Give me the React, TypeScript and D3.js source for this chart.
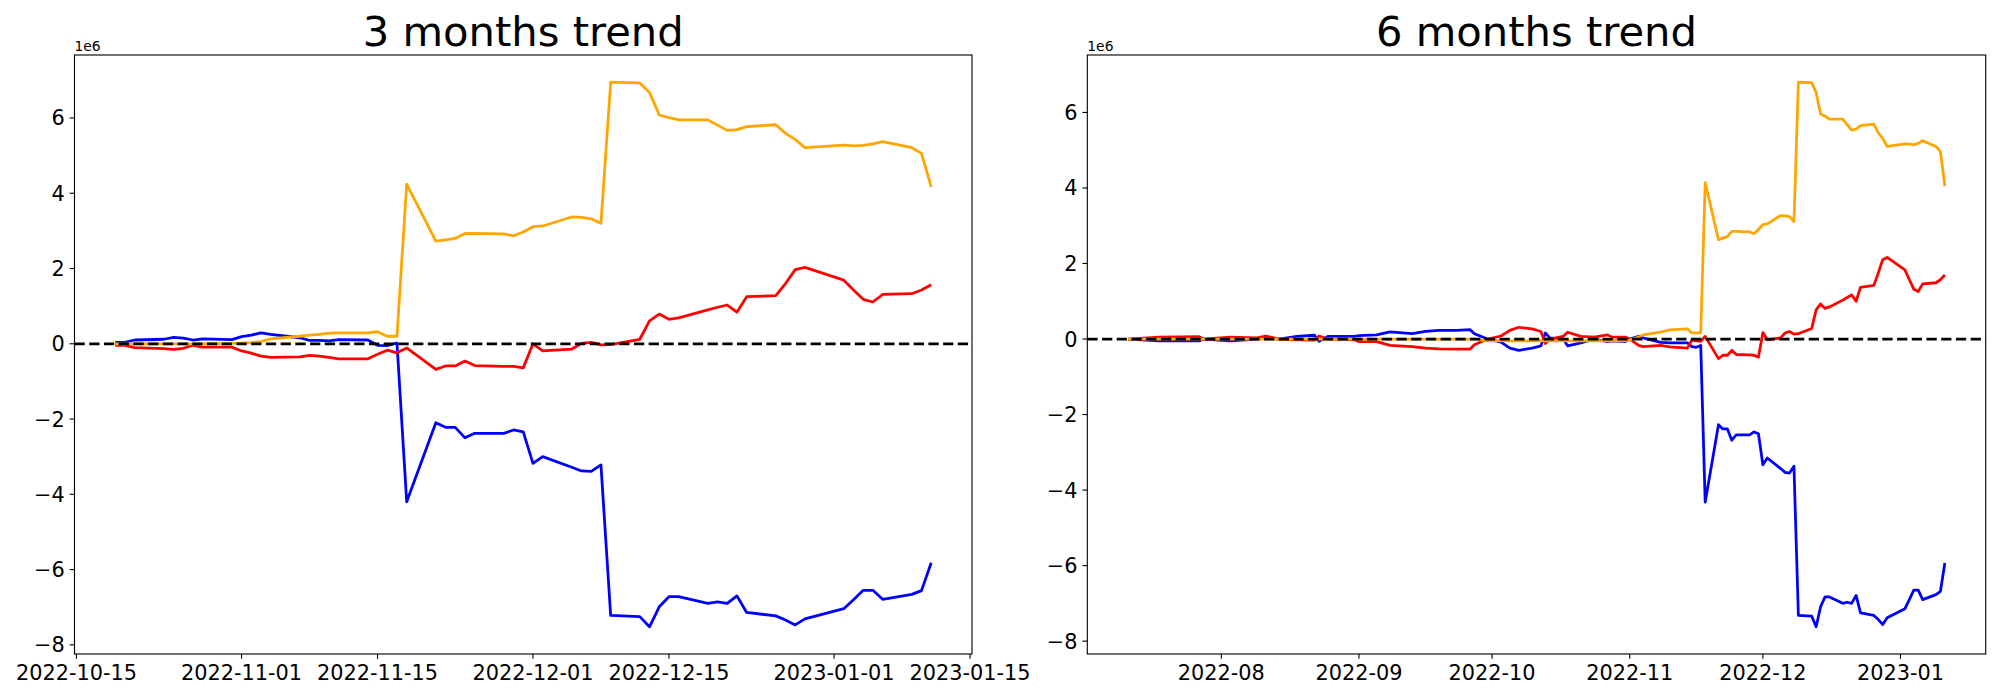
import React from "react";
import * as d3 from "d3";

// ---------- data: 3 months ----------
const dates3 = [
  "2022-10-19","2022-10-20","2022-10-21","2022-10-24","2022-10-25","2022-10-26","2022-10-27","2022-10-28","2022-10-31",
  "2022-11-01","2022-11-02","2022-11-03","2022-11-04","2022-11-07","2022-11-08","2022-11-09","2022-11-10","2022-11-11",
  "2022-11-14","2022-11-15","2022-11-16","2022-11-17","2022-11-18","2022-11-21","2022-11-22","2022-11-23","2022-11-24",
  "2022-11-25","2022-11-28","2022-11-29","2022-11-30","2022-12-01","2022-12-02","2022-12-05","2022-12-06","2022-12-07",
  "2022-12-08","2022-12-09","2022-12-12","2022-12-13","2022-12-14","2022-12-15","2022-12-16","2022-12-19","2022-12-20",
  "2022-12-21","2022-12-22","2022-12-23","2022-12-26","2022-12-27","2022-12-28","2022-12-29","2023-01-02","2023-01-03",
  "2023-01-04","2023-01-05","2023-01-06","2023-01-09","2023-01-10","2023-01-11",
];
const blue3 = [
  0.04, 0.04, 0.10, 0.12, 0.17, 0.15, 0.10, 0.13, 0.11,
  0.19, 0.23, 0.29, 0.25, 0.16, 0.09, 0.09, 0.08, 0.11,
  0.10, -0.04, -0.05, 0.02, -4.20, -2.10, -2.22, -2.22, -2.50,
  -2.38, -2.38, -2.29, -2.34, -3.18, -3.00, -3.28, -3.38, -3.39,
  -3.22, -7.22, -7.25, -7.52, -6.99, -6.72, -6.72, -6.90, -6.86,
  -6.90, -6.70, -7.14, -7.23, -7.34, -7.47, -7.31, -7.04, -6.80,
  -6.55, -6.55, -6.79, -6.66, -6.56, -5.82,
];
const red3 = [
  -0.04, -0.04, -0.10, -0.13, -0.15, -0.12, -0.04, -0.09, -0.09,
  -0.19, -0.25, -0.33, -0.36, -0.35, -0.31, -0.33, -0.36, -0.40,
  -0.40, -0.28, -0.17, -0.24, -0.11, -0.68, -0.59, -0.59, -0.46,
  -0.58, -0.60, -0.60, -0.64, 0.00, -0.19, -0.14, 0.01, 0.04,
  -0.03, -0.02, 0.12, 0.61, 0.79, 0.65, 0.69, 0.90, 0.97,
  1.03, 0.84, 1.25, 1.28, 1.60, 1.97, 2.03, 1.69, 1.43,
  1.18, 1.11, 1.31, 1.33, 1.43, 1.57,
];
const orange3 = [
  0, 0, 0, 0, 0, 0, 0, 0, 0.01,
  0.02, 0.03, 0.06, 0.13, 0.20, 0.23, 0.25, 0.28, 0.29,
  0.29, 0.32, 0.20, 0.20, 4.24, 2.73, 2.76, 2.80, 2.93,
  2.93, 2.92, 2.87, 2.97, 3.11, 3.13, 3.37, 3.36, 3.32,
  3.20, 6.95, 6.93, 6.68, 6.08, 6.01, 5.95, 5.95, 5.81,
  5.67, 5.69, 5.77, 5.82, 5.59, 5.43, 5.21, 5.28, 5.26,
  5.27, 5.31, 5.37, 5.21, 5.06, 4.17,
];
const xTicks3 = ["2022-10-15", "2022-11-01", "2022-11-15", "2022-12-01", "2022-12-15", "2023-01-01", "2023-01-15"];
const xTickLabels3 = ["2022-10-15", "2022-11-01", "2022-11-15", "2022-12-01", "2022-12-15", "2023-01-01", "2023-01-15"];

// ---------- data: 6 months ----------
const dates6 = [
  "2022-07-11","2022-07-18","2022-07-27","2022-07-28","2022-08-03","2022-08-09","2022-08-11","2022-08-14","2022-08-18",
  "2022-08-22","2022-08-23","2022-08-25","2022-08-31","2022-09-01","2022-09-05","2022-09-08","2022-09-13","2022-09-16",
  "2022-09-19","2022-09-23","2022-09-26","2022-09-27","2022-09-30","2022-10-03","2022-10-05","2022-10-07","2022-10-10",
  "2022-10-12","2022-10-13","2022-10-14","2022-10-17","2022-10-18","2022-10-21","2022-10-24","2022-10-27","2022-10-28",
  "2022-10-31","2022-11-01","2022-11-03","2022-11-04","2022-11-08","2022-11-10","2022-11-14","2022-11-15","2022-11-16",
  "2022-11-17",
  "2022-11-18","2022-11-21","2022-11-22","2022-11-23","2022-11-24","2022-11-25","2022-11-28","2022-11-29","2022-11-30",
  "2022-12-01","2022-12-02","2022-12-05","2022-12-06","2022-12-07","2022-12-08","2022-12-09","2022-12-12","2022-12-13",
  "2022-12-14","2022-12-15","2022-12-16","2022-12-19","2022-12-20","2022-12-21","2022-12-22","2022-12-23","2022-12-26",
  "2022-12-27","2022-12-28","2022-12-29","2023-01-02","2023-01-03","2023-01-04","2023-01-05","2023-01-06","2023-01-09",
  "2023-01-10","2023-01-11",
];
const blue6 = [
  0, -0.05, -0.05, 0, -0.05, 0, 0.02, 0, 0.07,
  0.10, -0.06, 0.07, 0.07, 0.09, 0.11, 0.19, 0.14, 0.20,
  0.23, 0.23, 0.25, 0.14, 0, -0.08, -0.24, -0.30, -0.24,
  -0.18, 0.16, 0.03, 0, -0.18, -0.10, 0, -0.07, -0.05,
  -0.07, 0, 0.07, 0.03, -0.09, -0.10, -0.10, -0.20, -0.22,
  -0.17,
  -4.32, -2.27, -2.38, -2.38, -2.68, -2.54, -2.54, -2.46, -2.51,
  -3.33, -3.15, -3.43, -3.53, -3.55, -3.37, -7.32, -7.34, -7.62,
  -7.09, -6.83, -6.83, -7.00, -6.97, -7.00, -6.79, -7.25, -7.32,
  -7.43, -7.56, -7.38, -7.14, -6.90, -6.65, -6.65, -6.90, -6.77,
  -6.68, -5.93,
];
const red6 = [
  0, 0.05, 0.06, 0, 0.05, 0.03, 0.08, 0, -0.02,
  -0.03, 0.08, 0, -0.02, -0.07, -0.07, -0.17, -0.20, -0.24,
  -0.26, -0.27, -0.27, -0.15, 0, 0.08, 0.23, 0.31, 0.27,
  0.20, -0.12, 0, 0.07, 0.18, 0.07, 0.05, 0.11, 0.05,
  0.05, 0, -0.17, -0.20, -0.17, -0.21, -0.24, -0.03, -0.05,
  -0.06,
  0.07, -0.52, -0.43, -0.43, -0.30, -0.41, -0.42, -0.43, -0.48,
  0.17, -0.02, 0.03, 0.16, 0.20, 0.13, 0.14, 0.28, 0.77,
  0.93, 0.81, 0.85, 1.03, 1.10, 1.17, 1.00, 1.37, 1.42,
  1.75, 2.10, 2.16, 1.83, 1.57, 1.32, 1.26, 1.46, 1.49,
  1.57, 1.70,
];
const orange6 = [
  0, 0, 0, 0, 0, 0, 0, 0, 0,
  0, 0, 0, 0, 0, 0, 0, 0, 0,
  0, 0, 0, 0, -0.05, -0.05, -0.05, -0.05, -0.05,
  -0.05, -0.05, -0.05, -0.05, -0.05, -0.05, -0.05, -0.05, -0.05,
  -0.05, -0.03, 0.05, 0.11, 0.18, 0.24, 0.27, 0.16, 0.16,
  0.16,
  4.14, 2.63, 2.67, 2.71, 2.85, 2.85, 2.84, 2.79, 2.90,
  3.03, 3.05, 3.27, 3.26, 3.24, 3.11, 6.80, 6.79, 6.53,
  5.96, 5.90, 5.82, 5.82, 5.68, 5.53, 5.56, 5.65, 5.69,
  5.46, 5.31, 5.10, 5.17, 5.16, 5.15, 5.18, 5.25, 5.10,
  4.96, 4.05,
];
const xTicks6 = ["2022-08-01", "2022-09-01", "2022-10-01", "2022-11-01", "2022-12-01", "2023-01-01"];
const xTickLabels6 = ["2022-08", "2022-09", "2022-10", "2022-11", "2022-12", "2023-01"];

const yTicks = [-8, -6, -4, -2, 0, 2, 4, 6];
const titles = ["3 months trend", "6 months trend"];
const offsetLabel = "1e6";

const seriesColors = ["blue", "red", "orange"];

const parse = d3.utcParse("%Y-%m-%d");
const FONT = "DejaVu Sans, sans-serif";
const PT = 100 / 72;

type PanelProps = {
  left: number;
  right: number;
  top: number;
  bottom: number;
  title: string;
  dates: string[];
  series: number[][];
  xTicks: string[];
  xTickLabels: string[];
};

function Panel({ left, right, top, bottom, title, dates, series, xTicks, xTickLabels }: PanelProps) {
  const ds = dates.map((d) => parse(d) as Date);
  const [d0, d1] = d3.extent(ds) as [Date, Date];
  const span = d1.getTime() - d0.getTime();
  const x = d3
    .scaleUtc()
    .domain([new Date(d0.getTime() - 0.05 * span), new Date(d1.getTime() + 0.05 * span)])
    .range([left, right]);
  const all = series.flat();
  const lo = d3.min(all) as number;
  const hi = d3.max(all) as number;
  const r = hi - lo;
  const y = d3.scaleLinear().domain([lo - 0.05 * r, hi + 0.05 * r]).range([bottom, top]);

  const line = d3
    .line<number>()
    .x((_, i) => x(ds[i]))
    .y((v) => y(v));

  const tickLen = 3.5 * PT;
  const pad = 3.5 * PT;
  const lw = 2 * PT;
  const dash = `${3.7 * 2 * PT} ${1.6 * 2 * PT}`;

  return (
    <g>
      <text
        x={(left + right) / 2}
        y={top - 6 * PT - 1}
        textAnchor="middle"
        fontFamily={FONT}
        fontSize={30 * PT}
        fill="#000"
      >
        {title}
      </text>
      <text x={left} y={top - 4} fontFamily={FONT} fontSize={10 * PT} fill="#000">
        {offsetLabel}
      </text>
      <defs>
        <clipPath id={`clip-${left}`}>
          <rect x={left} y={top} width={right - left} height={bottom - top} />
        </clipPath>
      </defs>
      <g clipPath={`url(#clip-${left})`}>
        {series.map((s, k) => (
          <path
            key={k}
            d={line(s) || ""}
            fill="none"
            stroke={seriesColors[k]}
            strokeWidth={lw}
            strokeLinejoin="round"
            strokeLinecap="butt"
          />
        ))}
        <line
          x1={left}
          x2={right}
          y1={y(0)}
          y2={y(0)}
          stroke="#000"
          strokeWidth={lw}
          strokeDasharray={dash}
        />
      </g>
      <rect
        x={left}
        y={top}
        width={right - left}
        height={bottom - top}
        fill="none"
        stroke="#000"
        strokeWidth={0.8 * PT}
      />
      {yTicks.map((t) => (
        <g key={t}>
          <line x1={left - tickLen} x2={left} y1={y(t)} y2={y(t)} stroke="#000" strokeWidth={0.8 * PT} />
          <text
            x={left - tickLen - pad}
            y={y(t)}
            dy="0.36em"
            textAnchor="end"
            fontFamily={FONT}
            fontSize={15 * PT}
            fill="#000"
          >
            {t < 0 ? `\u2212${Math.abs(t)}` : `${t}`}
          </text>
        </g>
      ))}
      {xTicks.map((t, i) => {
        const px = x(parse(t) as Date);
        return (
          <g key={t}>
            <line x1={px} x2={px} y1={bottom} y2={bottom + tickLen} stroke="#000" strokeWidth={0.8 * PT} />
            <text
              x={px}
              y={bottom + tickLen + pad + 16.3}
              textAnchor="middle"
              fontFamily={FONT}
              fontSize={15 * PT}
              fill="#000"
            >
              {xTickLabels[i]}
            </text>
          </g>
        );
      })}
    </g>
  );
}

export default function App() {
  return (
    <svg
      width={2000}
      height={700}
      style={{ position: "absolute", left: 0, top: 0, background: "#fff" }}
      xmlns="http://www.w3.org/2000/svg"
    >
      <rect x={0} y={0} width={2000} height={700} fill="#fff" />
      <Panel
        left={74.5}
        right={972}
        top={55}
        bottom={654}
        title={titles[0]}
        dates={dates3}
        series={[blue3, red3, orange3]}
        xTicks={xTicks3}
        xTickLabels={xTickLabels3}
      />
      <Panel
        left={1087.3}
        right={1985.7}
        top={55}
        bottom={654}
        title={titles[1]}
        dates={dates6}
        series={[blue6, red6, orange6]}
        xTicks={xTicks6}
        xTickLabels={xTickLabels6}
      />
    </svg>
  );
}
